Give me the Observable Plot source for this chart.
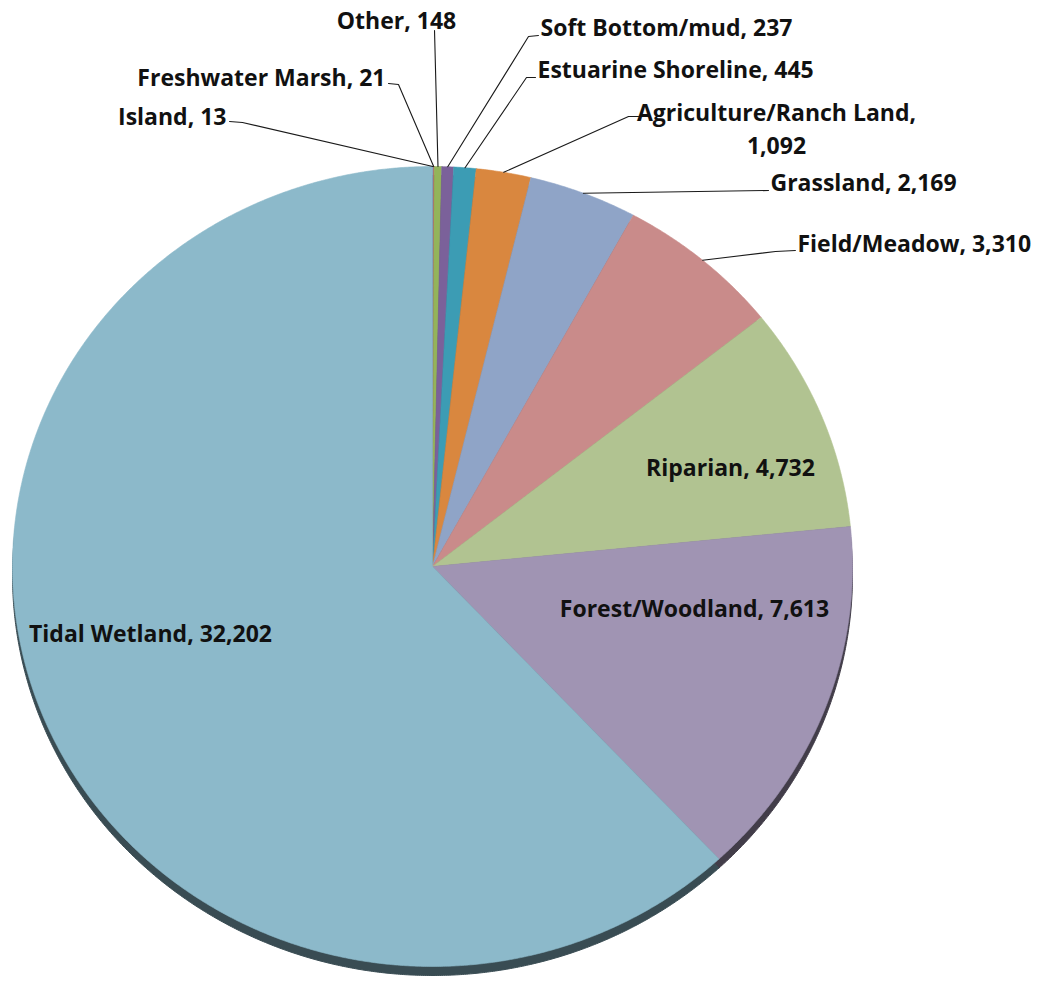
<!DOCTYPE html>
<html><head><meta charset="utf-8">
<script src="https://cdn.jsdelivr.net/npm/d3@7"></script>
<script src="https://cdn.jsdelivr.net/npm/@observablehq/plot@0.6"></script>
<style>body{margin:0;background:#fff}</style>
</head><body><div id="chart"></div>
<script>
// ---- data ----
const categories = ["Island","Freshwater Marsh","Other","Soft Bottom/mud","Estuarine Shoreline","Agriculture/Ranch Land","Grassland","Field/Meadow","Riparian","Forest/Woodland","Tidal Wetland"];
const values = [13, 21, 148, 237, 445, 1092, 2169, 3310, 4732, 7613, 32202];
const sliceColors = ["#4F81BD","#C0504D","#93B45A","#7B619A","#3C9CB4","#D9873F","#8FA4C7","#C98B8A","#B1C391","#A094B3","#8CB9CA"];

// ---- label layout (unit coordinates relative to pie centre, radius = 1) ----
const labelLayout = [
  {anchor:"end",    tx:-0.4905, ty:1.1225, lead:[[-0.4833,1.1125],[-0.4524,1.11]]},
  {anchor:"end",    tx:-0.1119, ty:1.22,   lead:[[-0.1048,1.2075],[-0.081,1.205]]},
  {anchor:"middle", tx:-0.0857, ty:1.37,   lead:[[0.0048,1.34],[0.0048,1.34]]},
  {anchor:"start",  tx:0.2571,  ty:1.345,  lead:[[0.2524,1.3275],[0.2286,1.325]]},
  {anchor:"start",  tx:0.25,    ty:1.24,   lead:[[0.2452,1.2225],[0.2238,1.2225]]},
  {anchor:"middle", tx:0.819,   ty:1.099,  lead:[[0.4905,1.125],[0.4667,1.125]], wrap:true},
  {anchor:"start",  tx:0.8048,  ty:0.9575, lead:[[0.8,0.94],[0.8,0.94]]},
  {anchor:"start",  tx:0.869,   ty:0.805,  lead:[[0.864,0.79],[0.8167,0.7875]]},
  {anchor:"middle", tx:0.7095,  ty:0.2525},
  {anchor:"middle", tx:0.6238,  ty:-0.1},
  {anchor:"middle", tx:-0.6714, ty:-0.1625}
];

const fmt = d3.format(",");
const arcs = d3.pie().sort(null).startAngle(0).endAngle(2*Math.PI)(values);

// slice polygons
const slicePts = [];
arcs.forEach((a, i) => {
  slicePts.push({key:i, x:0, y:0, color:sliceColors[i]});
  const n = Math.max(2, Math.ceil((a.endAngle - a.startAngle) / 0.005));
  for (let k = 0; k <= n; k++) {
    const t = a.startAngle + (a.endAngle - a.startAngle) * k / n;
    slicePts.push({key:i, x:Math.sin(t), y:Math.cos(t), color:sliceColors[i]});
  }
});
const shadowPts = slicePts.map(d => ({...d, color: d3.color(d.color).darker(2.5).formatHex()}));

// leader lines
const leaderPts = [];
arcs.forEach((a, i) => {
  const L = labelLayout[i];
  if (!L.lead) return;
  const m = (a.startAngle + a.endAngle) / 2;
  L.lead.forEach(p => leaderPts.push({key:i, x:p[0], y:p[1]}));
  leaderPts.push({key:i, x:Math.sin(m), y:Math.cos(m)});
});

const labels = categories.map((c, i) => ({
  text: labelLayout[i].wrap ? `${c},\n${fmt(values[i])}` : `${c}, ${fmt(values[i])}`,
  x: labelLayout[i].tx, y: labelLayout[i].ty, anchor: labelLayout[i].anchor
}));

const textOpts = {fontSize: 23, fontWeight: "bold", fill: "#111", fontFamily: "'Open Sans', 'Noto Sans', sans-serif"};

const chart = Plot.plot({
  width: 1056, height: 987, margin: 0,
  x: {domain: [-1, 1], range: [12, 852], axis: null},
  y: {domain: [-1, 1], range: [966, 166], axis: null},
  color: {type: "identity"},
  style: {background: "#fff"},
  marks: [
    Plot.line(shadowPts, {x:"x", y:"y", z:"key", fill:"color", stroke:"color", strokeWidth:1, curve:"linear-closed", dy:9}),
    Plot.line(slicePts, {x:"x", y:"y", z:"key", fill:"color", stroke:"color", strokeWidth:0.6, curve:"linear-closed"}),
    Plot.line(leaderPts, {x:"x", y:"y", z:"key", stroke:"#1a1a1a", strokeWidth:1.1}),
    Plot.text(labels.filter(d => d.anchor === "start"), {x:"x", y:"y", text:"text", textAnchor:"start", ...textOpts}),
    Plot.text(labels.filter(d => d.anchor === "end"), {x:"x", y:"y", text:"text", textAnchor:"end", ...textOpts}),
    Plot.text(labels.filter(d => d.anchor === "middle"), {x:"x", y:"y", text:"text", textAnchor:"middle", lineHeight:1.43, ...textOpts})
  ]
});
document.getElementById("chart").appendChild(chart);
</script>
</body></html>
